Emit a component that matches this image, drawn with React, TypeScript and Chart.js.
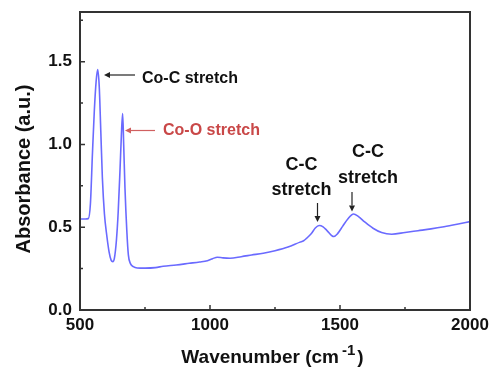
import React, { useEffect, useRef } from "react";
import { Chart, registerables } from "chart.js";

Chart.register(...registerables);

const wavenumbers = [
  500, 520, 532, 540, 548, 555, 562, 568, 574, 580, 586, 594, 603, 612, 620, 626, 632, 640, 647, 654,
  659, 664, 668, 673, 680, 686, 694, 705, 720, 750, 790, 820, 870, 920, 960, 990, 1010, 1028, 1050,
  1077, 1120, 1160, 1205, 1250, 1300, 1346, 1360, 1372, 1390, 1405, 1420, 1435, 1450, 1476, 1490,
  1510, 1530, 1552, 1570, 1595, 1627, 1660, 1699, 1750, 1800, 1850, 1900, 1950, 2000,
];
const absorbance = [
  0.55, 0.55, 0.552, 0.64, 0.95, 1.2, 1.38, 1.452, 1.35, 1.08, 0.8, 0.58, 0.45, 0.35, 0.3, 0.292, 0.31,
  0.42, 0.595, 0.85, 1.05, 1.186, 1.0, 0.736, 0.48, 0.333, 0.28, 0.262, 0.254, 0.253, 0.256, 0.264,
  0.272, 0.282, 0.29, 0.298, 0.31, 0.319, 0.315, 0.313, 0.322, 0.332, 0.343, 0.358, 0.38, 0.41, 0.418,
  0.434, 0.462, 0.495, 0.51, 0.502, 0.48, 0.444, 0.46, 0.505, 0.55, 0.58, 0.566, 0.532, 0.494,
  0.468, 0.458, 0.468, 0.479, 0.49, 0.503, 0.518, 0.534,
];

const xMajorTicks = [500, 1000, 1500, 2000];
const xMinorTicks = [750, 1250, 1750];
const yMajorTicks = [0, 0.5, 1.0, 1.5];
const yMinorTicks = [0.25, 0.75, 1.25, 1.75];

const FONT = '"Liberation Sans", Arial, sans-serif';

function arrow(ctx: CanvasRenderingContext2D, x1: number, y1: number, x2: number, y2: number, color: string) {
  ctx.save();
  ctx.strokeStyle = color;
  ctx.fillStyle = color;
  ctx.lineWidth = 1.2;
  const ang = Math.atan2(y2 - y1, x2 - x1);
  const hl = 6;
  const hw = 3;
  const bx = x2 - hl * Math.cos(ang);
  const by = y2 - hl * Math.sin(ang);
  ctx.beginPath();
  ctx.moveTo(x1, y1);
  ctx.lineTo(bx, by);
  ctx.stroke();
  ctx.beginPath();
  ctx.moveTo(x2, y2);
  ctx.lineTo(bx + hw * Math.sin(ang), by - hw * Math.cos(ang));
  ctx.lineTo(bx - hw * Math.sin(ang), by + hw * Math.cos(ang));
  ctx.closePath();
  ctx.fill();
  ctx.restore();
}

const decorPlugin = {
  id: "decor",
  afterDraw(chart: any) {
    const ctx: CanvasRenderingContext2D = chart.ctx;
    const { left, right, top, bottom } = chart.chartArea;
    const xs = chart.scales.x;
    const ys = chart.scales.y;
    ctx.save();
    // frame
    ctx.strokeStyle = "#333";
    ctx.lineWidth = 2;
    ctx.strokeRect(left, top, right - left, bottom - top);
    // ticks (inward)
    ctx.lineWidth = 1.5;
    ctx.beginPath();
    for (const v of xMajorTicks) {
      const px = xs.getPixelForValue(v);
      ctx.moveTo(px, bottom);
      ctx.lineTo(px, bottom - 5);
    }
    for (const v of xMinorTicks) {
      const px = xs.getPixelForValue(v);
      ctx.moveTo(px, bottom);
      ctx.lineTo(px, bottom - 3);
    }
    for (const v of yMajorTicks) {
      const py = ys.getPixelForValue(v);
      ctx.moveTo(left, py);
      ctx.lineTo(left + 5, py);
    }
    for (const v of yMinorTicks) {
      const py = ys.getPixelForValue(v);
      ctx.moveTo(left, py);
      ctx.lineTo(left + 3, py);
    }
    ctx.stroke();

    // annotations
    ctx.fillStyle = "#111";
    ctx.font = `bold 16px ${FONT}`;
    ctx.textAlign = "left";
    ctx.textBaseline = "alphabetic";
    ctx.fillText("Co-C stretch", 142, 83);
    arrow(ctx, 135, 75, 104, 75, "#222");

    ctx.fillStyle = "#c94848";
    ctx.fillText("Co-O stretch", 163, 135);
    arrow(ctx, 155, 130.5, 125, 130.5, "#d06060");

    ctx.fillStyle = "#111";
    ctx.font = `bold 18px ${FONT}`;
    ctx.textAlign = "center";
    ctx.fillText("C-C", 301.5, 170);
    ctx.fillText("stretch", 301.5, 195);
    arrow(ctx, 317.5, 203, 317.5, 222, "#222");
    ctx.fillText("C-C", 368, 157);
    ctx.fillText("stretch", 368, 182.5);
    arrow(ctx, 352, 192, 352, 211.5, "#222");

    // y title
    ctx.save();
    ctx.translate(30, 169);
    ctx.rotate(-Math.PI / 2);
    ctx.font = `bold 20px ${FONT}`;
    ctx.fillStyle = "#111";
    ctx.textAlign = "center";
    ctx.textBaseline = "alphabetic";
    ctx.fillText("Absorbance (a.u.)", 0, 0);
    ctx.restore();

    // x title with superscript
    ctx.fillStyle = "#111";
    ctx.textAlign = "left";
    ctx.textBaseline = "alphabetic";
    const main = "Wavenumber (cm";
    const sup = "-1";
    const close = ")";
    ctx.font = `bold 19px ${FONT}`;
    const wMain = ctx.measureText(main).width;
    const wClose = ctx.measureText(close).width;
    ctx.font = `bold 15px ${FONT}`;
    const wSup = ctx.measureText(sup).width;
    const total = wMain + 3 + wSup + 2 + wClose;
    let x0 = 272.5 - total / 2;
    ctx.font = `bold 19px ${FONT}`;
    ctx.fillText(main, x0, 363);
    ctx.font = `bold 15px ${FONT}`;
    ctx.fillText(sup, x0 + wMain + 3, 355);
    ctx.font = `bold 19px ${FONT}`;
    ctx.fillText(close, x0 + wMain + 3 + wSup + 2, 363);
    ctx.restore();
  },
};

function zeroPadding(s: any) {
  s.paddingTop = 0;
  s.paddingBottom = 0;
  s.paddingLeft = 0;
  s.paddingRight = 0;
}

export default function App() {
  const ref = useRef<HTMLCanvasElement | null>(null);
  useEffect(() => {
    if (!ref.current) return;
    const data = wavenumbers.map((w, i) => ({ x: w, y: absorbance[i] }));
    const chart = new Chart(ref.current, {
      type: "line",
      data: {
        datasets: [
          {
            data,
            borderColor: "#6a6aff",
            borderWidth: 1.6,
            pointRadius: 0,
            cubicInterpolationMode: "monotone",
            fill: false,
          },
        ],
      },
      options: {
        responsive: false,
        animation: false,
        devicePixelRatio: 1,
        layout: { autoPadding: false, padding: { top: 12, right: 20, left: 0, bottom: 0 } },
        plugins: { legend: { display: false }, tooltip: { enabled: false }, title: { display: false } },
        scales: {
          x: {
            type: "linear",
            min: 500,
            max: 2000,
            grid: { display: false, drawTicks: false },
            border: { display: false },
            ticks: {
              stepSize: 500,
              color: "#111",
              font: { family: FONT, size: 17, weight: "bold" },
              padding: 5,
              maxRotation: 0,
              callback: (v: any) => String(v),
            },
            afterFit: (s: any) => {
              s.height = 63;
              zeroPadding(s);
            },
          },
          y: {
            min: 0,
            max: 1.8,
            grid: { display: false, drawTicks: false },
            border: { display: false },
            ticks: {
              stepSize: 0.5,
              includeBounds: false,
              color: "#111",
              font: { family: FONT, size: 17, weight: "bold" },
              padding: 8,
              callback: (v: any) => Number(v).toFixed(1),
            },
            afterFit: (s: any) => {
              s.width = 80;
              zeroPadding(s);
            },
          },
        },
      },
      plugins: [decorPlugin],
    } as any);
    return () => chart.destroy();
  }, []);
  return (
    <div style={{ position: "fixed", left: 0, top: 0, width: 490, height: 373, background: "#fff" }}>
      <canvas ref={ref} width={490} height={373} style={{ width: 490, height: 373 }} />
    </div>
  );
}
